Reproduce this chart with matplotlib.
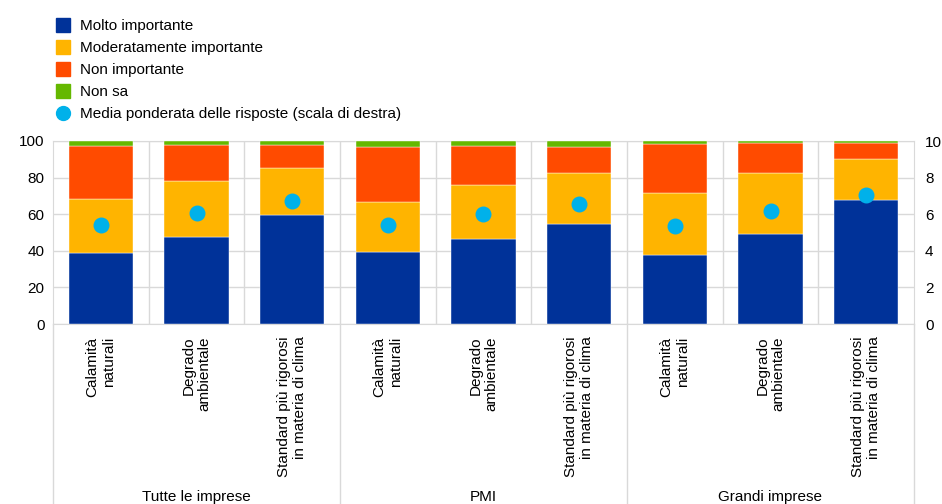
import numpy as np
import matplotlib
matplotlib.use("Agg")
import matplotlib.pyplot as plt
from matplotlib.lines import Line2D

plt.rcParams['font.family'] = ['Liberation Sans', 'DejaVu Sans']

categories = ["Calamità\nnaturali", "Degrado\nambientale",
              "Standard più rigorosi\nin materia di clima"] * 3
groups = ["Tutte le imprese", "PMI", "Grandi imprese"]

molto = [38.7, 47.6, 59.8, 39.1, 46.4, 54.9, 37.8, 49.3, 68.0]
moderato = [29.5, 30.6, 25.5, 27.3, 29.4, 27.6, 33.7, 33.2, 22.4]
non_imp = [28.9, 19.4, 12.3, 30.1, 21.3, 14.0, 26.7, 16.2, 8.3]
non_sa = [2.9, 2.4, 2.4, 3.5, 2.9, 3.5, 1.8, 1.3, 1.3]
media = [5.40, 6.05, 6.73, 5.42, 6.00, 6.56, 5.36, 6.16, 7.04]

series_labels = ["Molto importante", "Moderatamente importante",
                 "Non importante", "Non sa"]
colors = ["#003299", "#FFB400", "#FF4B00", "#65B800"]
dot_color = "#00B1EA"
grid_c = "#d9d9d9"

fig = plt.figure(figsize=(9.42, 5.04), dpi=100)
ax = fig.add_axes([53 / 942, 180 / 504, 861 / 942, 183 / 504])

x = np.arange(len(categories))
bottom = np.zeros(len(x))
for vals, c in zip([molto, moderato, non_imp, non_sa], colors):
    ax.bar(x, vals, width=0.67, bottom=bottom, color=c,
           edgecolor="white", linewidth=0.3, zorder=3)
    bottom += np.array(vals)

ax.set_xlim(-0.5, len(x) - 0.5)
ax.set_ylim(0, 100)
ax.set_yticks(range(0, 101, 20))
ax.yaxis.grid(True, color=grid_c, linewidth=1, zorder=0)
for b in np.arange(0.5, len(x) - 0.5, 1):
    ax.axvline(b, color=grid_c, linewidth=1, zorder=0)
for s in ax.spines.values():
    s.set_color(grid_c)
ax.tick_params(axis='y', length=0, labelsize=11, pad=6)
ax.set_xticks(x)
ax.set_xticklabels(categories, rotation=90, va='top', ha='center',
                   multialignment='right', fontsize=11)
ax.tick_params(axis='x', length=0, pad=9)

# group separators below the axis
trans = ax.get_xaxis_transform()
for b in [-0.5, 2.5, 5.5, 8.5]:
    ax.plot([b, b], [0, -1.0], color=grid_c, linewidth=1,
            transform=trans, clip_on=False)
for i, g in enumerate(groups):
    ax.text(3 * i + 1, -0.945, g, transform=trans, ha='center',
            va='center', fontsize=11)

ax2 = ax.twinx()
ax2.set_ylim(0, 10)
ax2.set_yticks(range(0, 11, 2))
ax2.tick_params(axis='y', length=0, labelsize=11, pad=8)
for s in ax2.spines.values():
    s.set_visible(False)
ax2.scatter(x, media, s=110, color=dot_color, zorder=5)

handles = [Line2D([], [], marker='s', linestyle='', markersize=9.5,
                  color=c) for c in colors]
handles.append(Line2D([], [], marker='o', linestyle='', markersize=10,
                      color=dot_color))
fig.legend(handles, series_labels + ["Media ponderata delle risposte (scala di destra)"],
           loc='upper left', bbox_to_anchor=(48 / 942, 1 - 13 / 504),
           frameon=False, fontsize=11, handletextpad=0.5,
           labelspacing=0.52, borderaxespad=0, handlelength=1.2)

fig.savefig("out.png", dpi=100)
